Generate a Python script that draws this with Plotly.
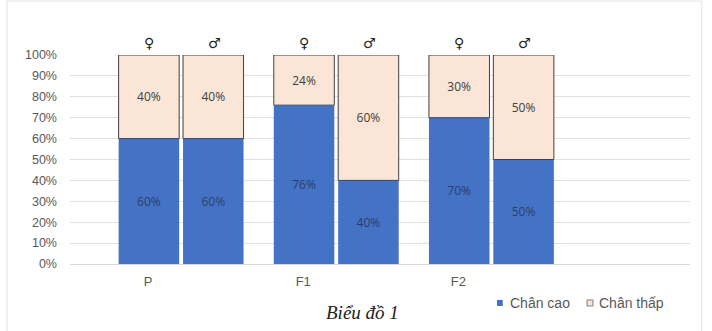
import plotly.graph_objects as go

generations = ["P", "F1", "F2"]
female_tall = [60, 76, 70]
female_short = [40, 24, 30]
male_tall = [60, 40, 50]
male_short = [40, 60, 50]
sex_symbols = ["♀", "♂"]
series_names = ["Chân cao", "Chân thấp"]
y_ticks = [0, 10, 20, 30, 40, 50, 60, 70, 80, 90, 100]

BLUE = "#4472C4"
PINK = "#FBE5D6"
TXT = "#404040"

fig = go.Figure()

def add(vals, base, og, color, name, line):
    fig.add_trace(go.Bar(
        x=generations, y=[v / 100 for v in vals],
        base=None if base is None else [b / 100 for b in base],
        offsetgroup=og, name=name, legendgroup=name, showlegend=False,
        marker=dict(color=color, line=dict(color=line or color, width=1 if line else 0)),
        text=[f"{v}%" for v in vals], textposition="inside", insidetextanchor="middle",
        textfont=dict(family="Open Sans", size=12, color="#2b3f6c" if color == BLUE else TXT),
        hoverinfo="skip",
    ))

add(female_tall, None, "f", BLUE, series_names[0], None)
add(female_short, female_tall, "f", PINK, series_names[1], "#404040")
add(male_tall, None, "m", BLUE, series_names[0], None)
add(male_short, male_tall, "m", PINK, series_names[1], "#404040")

for g in generations:
    for i, s in enumerate(sex_symbols):
        fig.add_annotation(x=g, y=1, yref="y", text=s, showarrow=False,
                           xshift=-32 if i == 0 else 33, yshift=12,
                           font=dict(family="DejaVu Sans", size=14, color="#222222"))

fig.add_annotation(x=0.471, y=-0.23, xref="paper", yref="paper", text="<i>Biểu đồ 1</i>",
                   showarrow=False, yanchor="middle", xanchor="center",
                   font=dict(family="Liberation Serif", size=19, color="#222222"))

# legend (drawn as shapes + text)
legend_font = dict(family="Liberation Sans", size=14, color="#595959")
fig.add_annotation(x=0.7065, y=-0.1866, xref="paper", yref="paper", text=series_names[0],
                   showarrow=False, xanchor="left", yanchor="middle", font=legend_font)
fig.add_annotation(x=0.850, y=-0.1866, xref="paper", yref="paper", text=series_names[1],
                   showarrow=False, xanchor="left", yanchor="middle", font=legend_font)

fig.update_layout(
    width=712, height=331,
    margin=dict(l=70, r=22, t=55, b=67),
    paper_bgcolor="white", plot_bgcolor="white",
    showlegend=False,
    barmode="group", bargap=0.17, bargroupgap=0.06,
    xaxis=dict(range=[-0.716, 3.28], showgrid=False, showline=True, linecolor="#d9d9d9",
               ticks="", ticklabelshift=-33, ticklabelstandoff=5,
               tickfont=dict(family="Liberation Sans", size=13, color="#595959")),
    yaxis=dict(range=[0, 1], tickvals=[t / 100 for t in y_ticks],
               ticktext=[f"{t}%" for t in y_ticks], showgrid=True, gridcolor="#e0e0e0",
               zeroline=False, ticks="", ticklabelstandoff=12,
               tickfont=dict(family="Liberation Sans", size=12.5, color="#595959")),
    shapes=[
        dict(type="rect", xref="paper", yref="paper", x0=-0.1016, x1=1.019, y0=-0.34, y1=1.258,
             line=dict(color="#e0e0e0", width=1)),
        dict(type="rect", xref="paper", yref="paper", x0=0.6887, x1=0.698, y0=-0.201, y1=-0.172,
             fillcolor=BLUE, line=dict(width=0)),
        dict(type="rect", xref="paper", yref="paper", x0=0.8339, x1=0.8435, y0=-0.201, y1=-0.172,
             fillcolor=PINK, line=dict(color="#808080", width=1)),
    ],
)

fig.write_html("out.html")
